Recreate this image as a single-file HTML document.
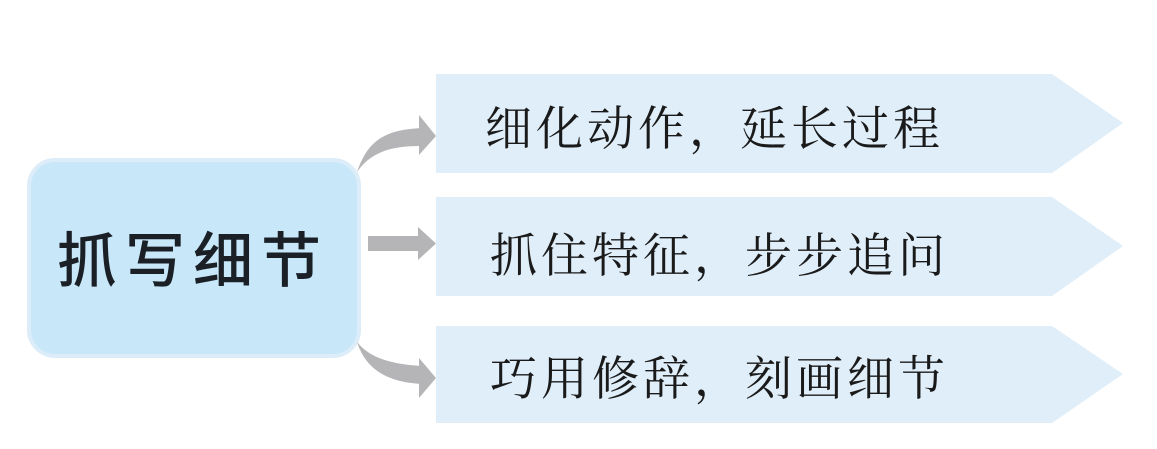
<!DOCTYPE html>
<html><head><meta charset="utf-8"><style>
html,body{margin:0;padding:0;background:#fff;}
svg{display:block;}
.t{font-family:"Liberation Serif","Noto Serif CJK SC",serif;font-size:47px;fill:#1a1a1a;letter-spacing:4px;}
.m{font-family:"Liberation Sans","Noto Sans CJK SC",sans-serif;font-size:60px;font-weight:500;fill:#1a2026;letter-spacing:8px;}
</style></head><body>
<svg width="1157" height="449" viewBox="0 0 1157 449" xmlns="http://www.w3.org/2000/svg">
<polygon points="436,74 1052,74 1123,123 1052,173 436,173" fill="#dfeef9"/>
<polygon points="436,197 1052,197 1123,246 1052,296 436,296" fill="#dfeef9"/>
<polygon points="436,326 1052,326 1123,374 1052,423 436,423" fill="#dfeef9"/>
<rect x="29" y="160" width="330" height="196" rx="26" fill="#c8e8fa" stroke="#dcedf9" stroke-width="4"/>
<text x="193" y="282" text-anchor="middle" class="m">抓写细节</text>
<rect x="368" y="236" width="52" height="15" fill="#b5b5b7"/>
<polygon points="418,227 436,243.5 418,260" fill="#b5b5b7"/>
<path d="M357,172 C368,140 385,130 421,128 L421,146 C395,146 372,150 357,172 Z" fill="#b5b5b7"/>
<polygon points="419,115 436,136 419,155" fill="#b5b5b7"/>
<path d="M357,342 C370,358 390,364 421,366 L421,384 C388,382 366,370 357,342 Z" fill="#b5b5b7"/>
<polygon points="419,358 436,378 419,398" fill="#b5b5b7"/>
<text x="485" y="145" class="t">细化动作，延长过程</text>
<text x="490" y="272" class="t">抓住特征，步步追问</text>
<text x="490" y="395" class="t">巧用修辞，刻画细节</text>
</svg>
</body></html>
